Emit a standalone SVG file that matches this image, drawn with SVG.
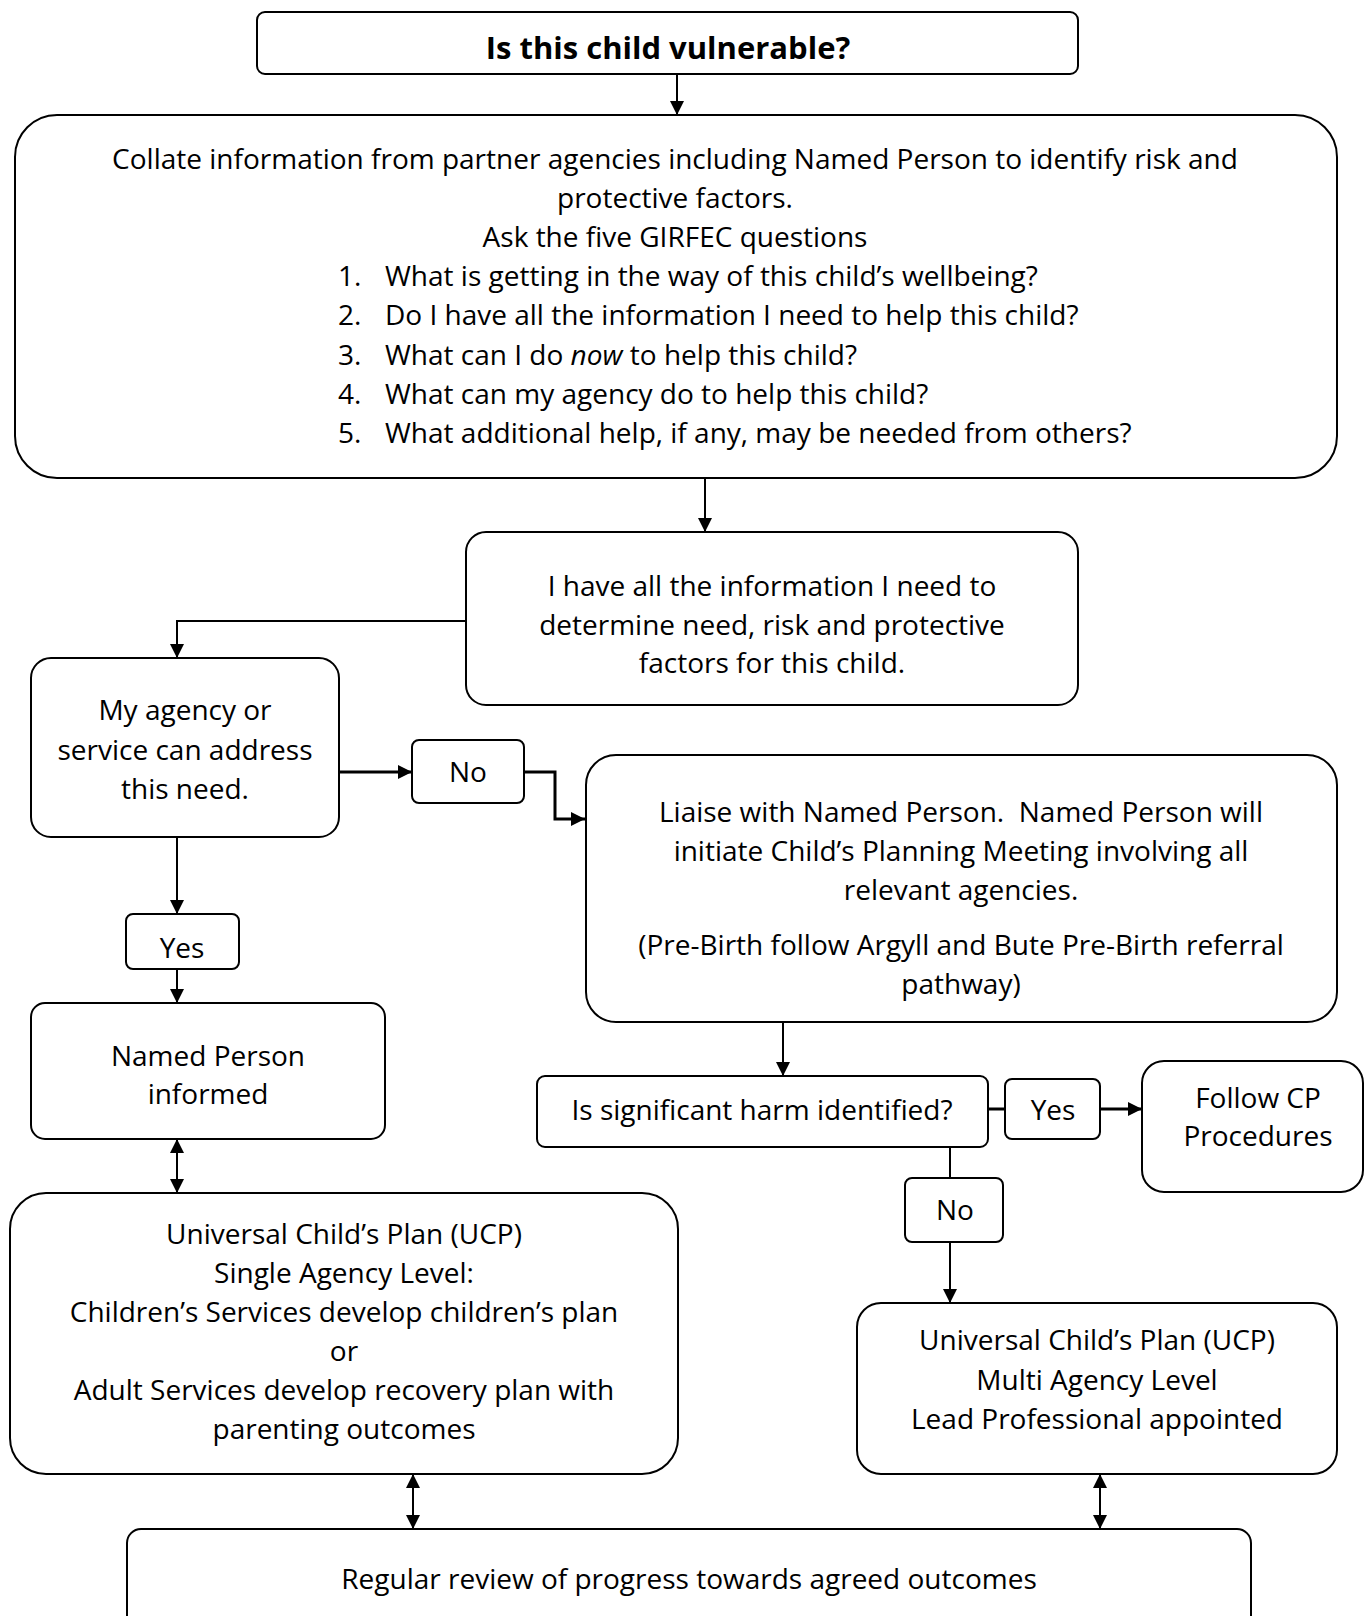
<svg xmlns="http://www.w3.org/2000/svg" width="1365" height="1616" viewBox="0 0 1365 1616">
<defs>
<marker id="ah" viewBox="0 0 14 14" refX="14" refY="7" markerWidth="14" markerHeight="14" markerUnits="userSpaceOnUse" orient="auto-start-reverse">
<path d="M0,0 L14,7 L0,14 z" fill="#000"/>
</marker>
<style>
.box{fill:#fff;stroke:#000;stroke-width:2}
.t{font-family:"Open Sans","Noto Sans",sans-serif;font-size:28px;fill:#000;text-anchor:middle}
.l{font-family:"Open Sans","Noto Sans",sans-serif;font-size:28px;fill:#000;text-anchor:start}
.b{font-weight:bold;font-size:31px}
.c{fill:none;stroke:#000;stroke-width:2}
.k{stroke-width:3}
.a{marker-end:url(#ah)}
.d{marker-start:url(#ah);marker-end:url(#ah)}
</style>
</defs>
<rect width="1365" height="1616" fill="#fff"/>
<g id="connectors">
<path class="c a" d="M677,74 V115"/>
<path class="c a" d="M705,478 V532"/>
<path class="c a" d="M466,621 H177 V658"/>
<path class="c k a" d="M339,772 H412"/>
<path class="c k a" d="M524,772 H555 V819 H585"/>
<path class="c a" d="M177,837 V914"/>
<path class="c a" d="M177,969 V1003"/>
<path class="c d" d="M177,1139 V1193"/>
<path class="c a" d="M783,1022 V1076"/>
<path class="c k" d="M988,1109 H1005"/>
<path class="c k a" d="M1100,1109 H1142"/>
<path class="c" d="M950,1147 V1178"/>
<path class="c a" d="M950,1242 V1303"/>
<path class="c d" d="M413,1474 V1529"/>
<path class="c d" d="M1100,1474 V1529"/>
</g>
<g id="n-vulnerable">
<rect class="box" x="257" y="12" width="821" height="62" rx="8"/>
<text class="t b" x="668" y="59">Is this child vulnerable?</text>
</g>
<g id="n-collate">
<rect class="box" x="15" y="115" width="1322" height="363" rx="42"/>
<text class="t" x="675" y="169">Collate information from partner agencies including Named Person to identify risk and</text>
<text class="t" x="675" y="208">protective factors.</text>
<text class="t" x="675" y="247">Ask the five GIRFEC questions</text>
<text class="l" x="338" y="286">1.</text><text class="l" x="385" y="286">What is getting in the way of this child’s wellbeing?</text>
<text class="l" x="338" y="325">2.</text><text class="l" x="385" y="325">Do I have all the information I need to help this child?</text>
<text class="l" x="338" y="365">3.</text><text class="l" x="385" y="365">What can I do <tspan font-style="italic">now</tspan> to help this child?</text>
<text class="l" x="338" y="404">4.</text><text class="l" x="385" y="404">What can my agency do to help this child?</text>
<text class="l" x="338" y="443">5.</text><text class="l" x="385" y="443">What additional help, if any, may be needed from others?</text>
</g>
<g id="n-info">
<rect class="box" x="466" y="532" width="612" height="173" rx="20"/>
<text class="t" x="772" y="596">I have all the information I need to</text>
<text class="t" x="772" y="635">determine need, risk and protective</text>
<text class="t" x="772" y="673">factors for this child.</text>
</g>
<g id="n-agency">
<rect class="box" x="31" y="658" width="308" height="179" rx="20"/>
<text class="t" x="185" y="720">My agency or</text>
<text class="t" x="185" y="760">service can address</text>
<text class="t" x="185" y="799">this need.</text>
</g>
<g id="n-no1">
<rect class="box" x="412" y="740" width="112" height="63" rx="7"/>
<text class="t" x="468" y="782">No</text>
</g>
<g id="n-liaise">
<rect class="box" x="586" y="755" width="751" height="267" rx="30"/>
<text class="t" x="961" y="822">Liaise with Named Person.&#160; Named Person will</text>
<text class="t" x="961" y="861">initiate Child’s Planning Meeting involving all</text>
<text class="t" x="961" y="900">relevant agencies.</text>
<text class="t" x="961" y="955">(Pre-Birth follow Argyll and Bute Pre-Birth referral</text>
<text class="t" x="961" y="994">pathway)</text>
</g>
<g id="n-yes1">
<rect class="box" x="126" y="914" width="113" height="55" rx="7"/>
<text class="t" x="182" y="958">Yes</text>
</g>
<g id="n-named">
<rect class="box" x="31" y="1003" width="354" height="136" rx="14"/>
<text class="t" x="208" y="1066">Named Person</text>
<text class="t" x="208" y="1104">informed</text>
</g>
<g id="n-harm">
<rect class="box" x="537" y="1076" width="451" height="71" rx="8"/>
<text class="t" x="762" y="1120">Is significant harm identified?</text>
</g>
<g id="n-yes2">
<rect class="box" x="1005" y="1079" width="95" height="60" rx="7"/>
<text class="t" x="1053" y="1120">Yes</text>
</g>
<g id="n-cp">
<rect class="box" x="1142" y="1061" width="221" height="131" rx="22"/>
<text class="t" x="1258" y="1108">Follow CP</text>
<text class="t" x="1258" y="1146">Procedures</text>
</g>
<g id="n-no2">
<rect class="box" x="905" y="1178" width="98" height="64" rx="7"/>
<text class="t" x="955" y="1220">No</text>
</g>
<g id="n-ucp-single">
<rect class="box" x="10" y="1193" width="668" height="281" rx="36"/>
<text class="t" x="344" y="1244">Universal Child’s Plan (UCP)</text>
<text class="t" x="344" y="1283">Single Agency Level:</text>
<text class="t" x="344" y="1322">Children’s Services develop children’s plan</text>
<text class="t" x="344" y="1361">or</text>
<text class="t" x="344" y="1400">Adult Services develop recovery plan with</text>
<text class="t" x="344" y="1439">parenting outcomes</text>
</g>
<g id="n-ucp-multi">
<rect class="box" x="857" y="1303" width="480" height="171" rx="24"/>
<text class="t" x="1097" y="1350">Universal Child’s Plan (UCP)</text>
<text class="t" x="1097" y="1390">Multi Agency Level</text>
<text class="t" x="1097" y="1429">Lead Professional appointed</text>
</g>
<g id="n-review">
<rect class="box" x="127" y="1529" width="1124" height="100" rx="14"/>
<text class="t" x="689" y="1589">Regular review of progress towards agreed outcomes</text>
</g>
</svg>
